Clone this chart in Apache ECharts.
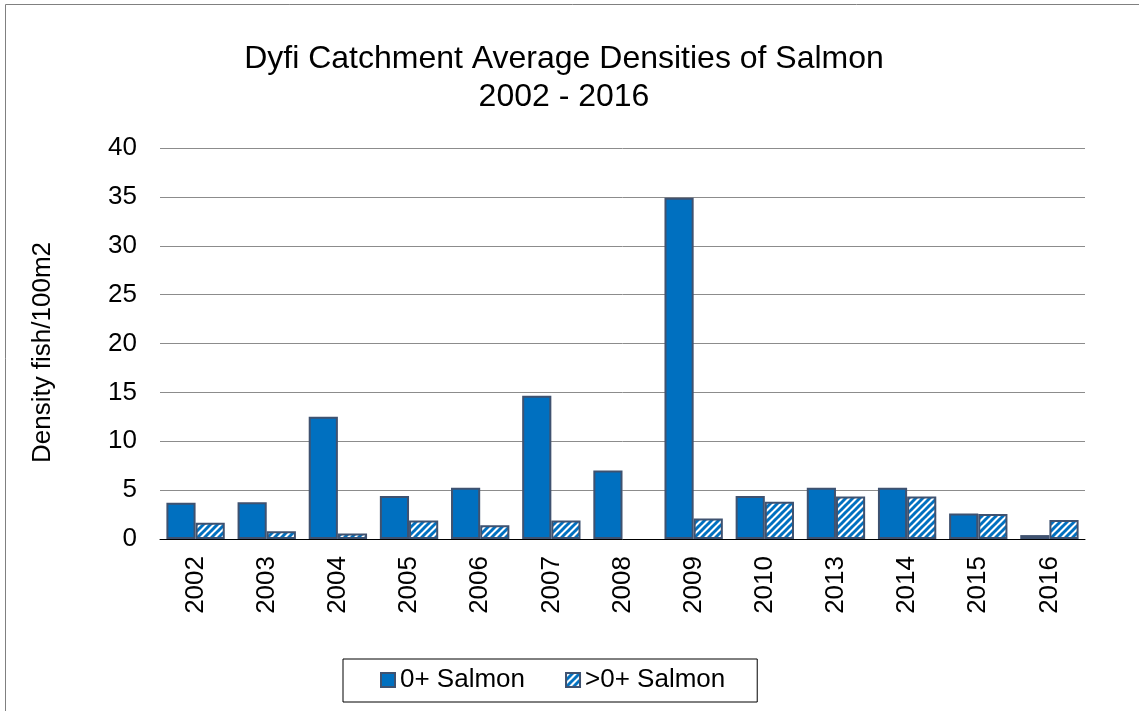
<!DOCTYPE html>
<html>
<head>
<meta charset="utf-8">
<script src="https://cdn.jsdelivr.net/npm/echarts@6/dist/echarts.min.js"></script>
<style>
html,body{margin:0;padding:0;background:#fff;}
#chart{width:1139px;height:711px;}
</style>
</head>
<body>
<div id="chart"></div>
<script>
const categories = ['2002','2003','2004','2005','2006','2007','2008','2009','2010','2013','2014','2015','2016'];
const salmon0 = [3.7, 3.75, 12.5, 4.4, 5.25, 14.65, 7.0, 34.9, 4.4, 5.25, 5.25, 2.6, 0.4];
const salmonOlder = [1.65, 0.8, 0.55, 1.9, 1.4, 1.9, null, 2.1, 3.8, 4.35, 4.35, 2.55, 1.95];
const yTicks = [0, 5, 10, 15, 20, 25, 30, 35, 40];
const seriesNames = ['0+ Salmon', '>0+ Salmon'];
const titleLines = ['Dyfi Catchment Average Densities of Salmon', '2002 - 2016'];
const yAxisName = 'Density fish/100m2';

// stripe pattern tile
const tile = document.createElement('canvas');
tile.width = 7; tile.height = 7;
const c = tile.getContext('2d');
c.fillStyle = '#ffffff';
c.fillRect(0, 0, 7, 7);
c.strokeStyle = '#0070C0';
c.lineWidth = 3;
for (const off of [-7, 0, 7]) {
  c.beginPath();
  c.moveTo(off - 1, 8);
  c.lineTo(off + 8, -1);
  c.stroke();
}

const FONT = '"Liberation Sans", Arial, sans-serif';
const chart = echarts.init(document.getElementById('chart'), null, {renderer: 'canvas'});
chart.setOption({
  animation: false,
  backgroundColor: '#fff',
  textStyle: {fontFamily: FONT, color: '#000'},
  graphic: [{
    type: 'polyline',
    shape: {points: [[5.5, 760], [5.5, 4.5], [1200, 4.5]]},
    style: {fill: null, stroke: '#808080', lineWidth: 1},
    silent: true, z: -1
  }],
  title: {
    text: titleLines.join('\n'),
    left: 564,
    top: 40,
    padding: 0,
    textAlign: 'center',
    textStyle: {fontFamily: FONT, fontSize: 32, fontWeight: 'normal', color: '#000', lineHeight: 38}
  },
  legend: {
    data: seriesNames,
    left: 343, top: 659,
    padding: [8, 32, 9, 37],
    itemGap: 40,
    itemWidth: 14, itemHeight: 14,
    borderColor: '#000', borderWidth: 1,
    textStyle: {fontFamily: FONT, fontSize: 26, color: '#000'},
    icon: 'rect'
  },
  grid: {left: 160, right: 54, top: 148, bottom: 172, containLabel: false},
  xAxis: {
    type: 'category',
    data: categories,
    axisLine: {lineStyle: {color: '#000', width: 1}},
    axisTick: {show: false},
    axisLabel: {rotate: 90, fontSize: 26, color: '#000', fontFamily: FONT, margin: 17, interval: 0}
  },
  yAxis: {
    type: 'value',
    min: 0, max: 40, interval: 5,
    name: yAxisName,
    nameLocation: 'middle',
    nameGap: 104,
    nameTextStyle: {fontSize: 26, color: '#000', fontFamily: FONT, padding: [0, 18, 0, 0]},
    axisLine: {show: false},
    axisTick: {show: false},
    axisLabel: {fontSize: 26, color: '#000', fontFamily: FONT, margin: 23,
      formatter: v => yTicks.includes(v) ? String(v) : ''},
    splitLine: {lineStyle: {color: '#8c8c8c', width: 1}}
  },
  series: [
    {
      name: seriesNames[0], type: 'bar', data: salmon0,
      barGap: '0%', barCategoryGap: '18%',
      itemStyle: {color: '#0070C0', borderColor: '#3f5270', borderWidth: 2}
    },
    {
      name: seriesNames[1], type: 'bar', data: salmonOlder,
      barGap: '0%', barCategoryGap: '18%',
      itemStyle: {color: {image: tile, repeat: 'repeat'}, borderColor: '#3f5270', borderWidth: 2}
    }
  ]
});
</script>
</body>
</html>
